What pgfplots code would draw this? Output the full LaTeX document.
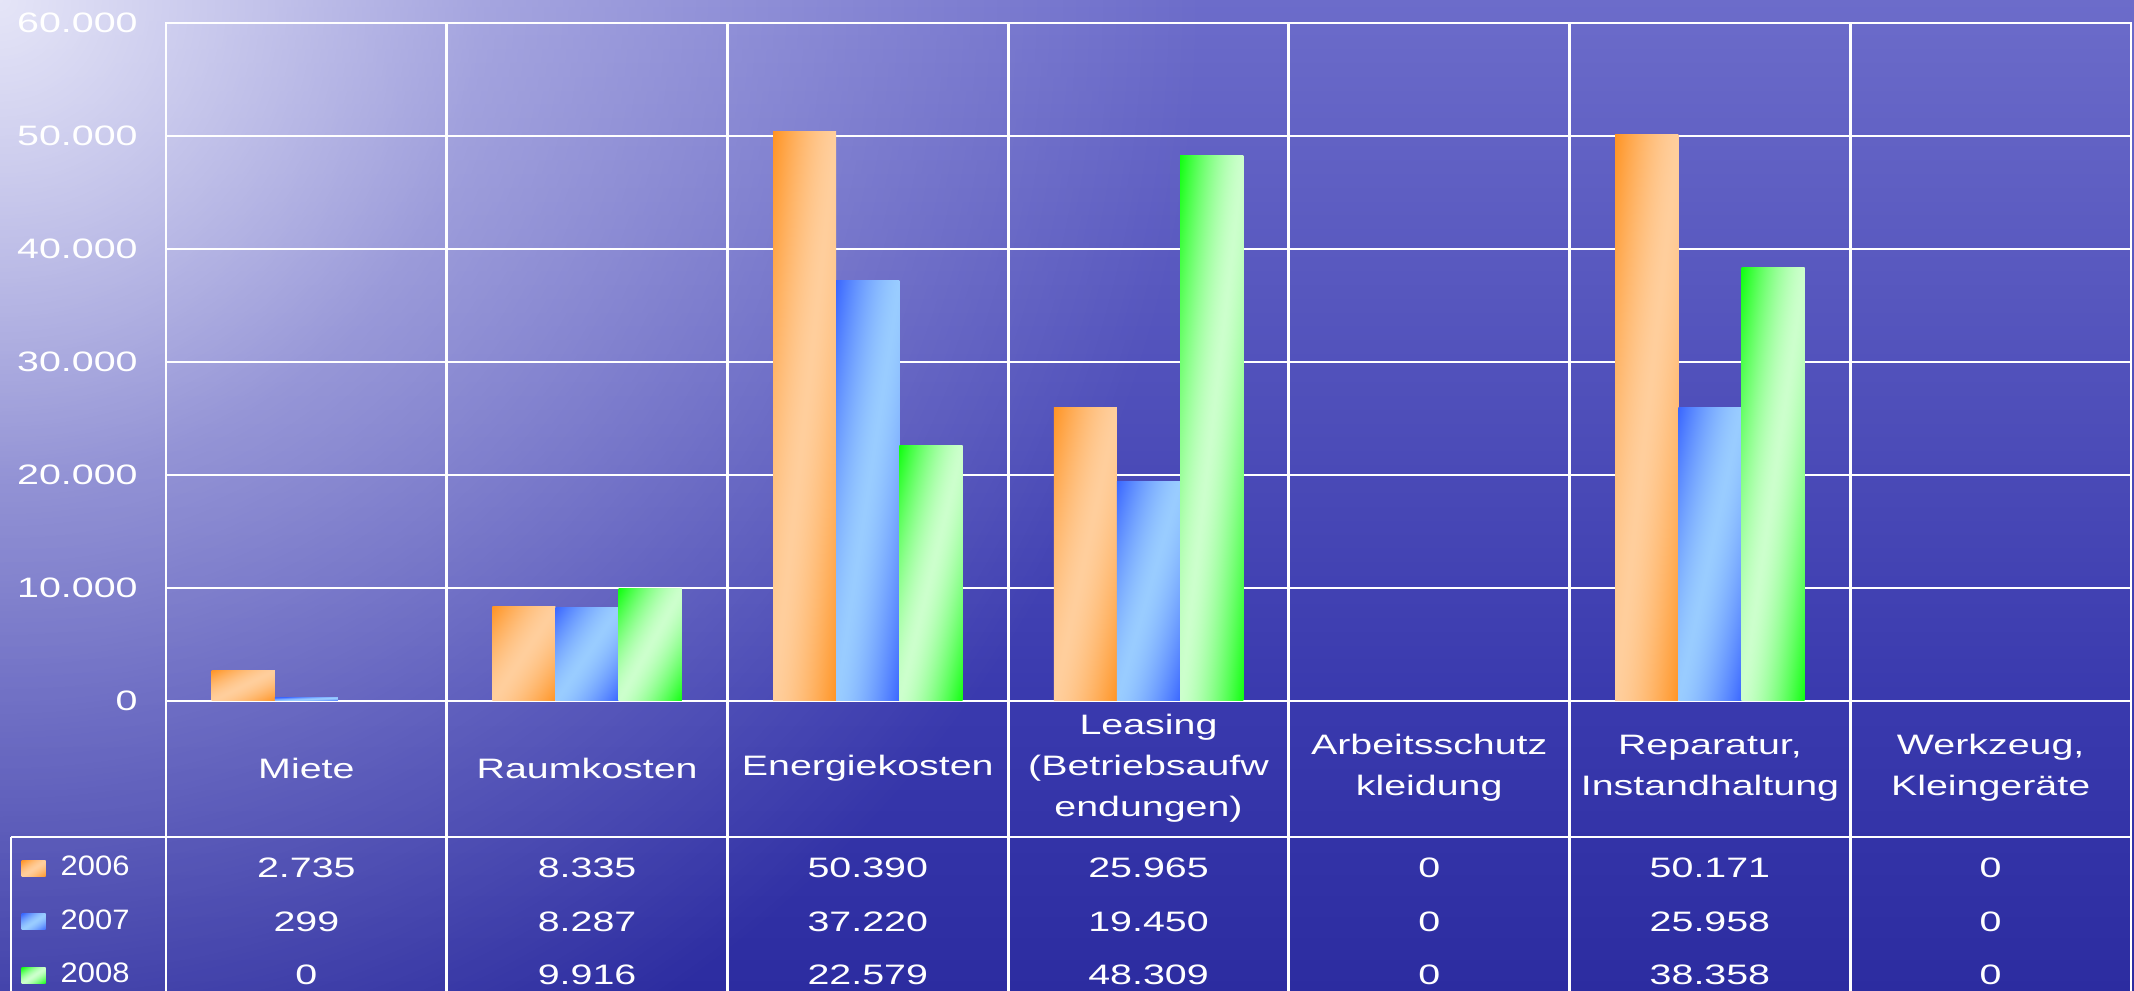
\documentclass[border=0pt]{standalone}
\usepackage{fontspec}
\setmainfont{Liberation Sans}[FakeStretch=1.4]
\newfontfamily\legendfamily{Liberation Sans}[FakeStretch=1.1]
\usepackage{pgfplots}
\pgfplotsset{compat=1.18}
\usepackage{pgfplotstable}
\usetikzlibrary{fadings}

\pgfkeys{/pgf/number format/.cd, fixed, precision=0, 1000 sep={.}, assume math mode=true}
\newcommand\chartfont{\fontsize{8}{11.7}\selectfont}

% background colours
\definecolor{bgTop}{RGB}{108,108,202}
\definecolor{bgMid}{RGB}{58,58,174}
\definecolor{bgBot}{RGB}{44,44,160}
\definecolor{glowc}{RGB}{236,236,250}

% bar gradients: light along the bar's rising diagonal, dark in the two other corners
% u = (|x-y|/50)^1.5 ; colour = light + u*(dark-light)
\pgfdeclarefunctionalshading{orbar}{\pgfpointorigin}{\pgfpoint{100bp}{100bp}}{}{
  sub abs 50 div dup 1 gt {pop 1} if dup sqrt mul
  dup dup
  -0.471 mul 0.612 add
  3 1 roll
  -0.228 mul 0.808 add
  3 1 roll
  0 mul 1 add
  3 1 roll
}
\pgfdeclarefunctionalshading{blbar}{\pgfpointorigin}{\pgfpoint{100bp}{100bp}}{}{
  sub abs 50 div dup 1 gt {pop 1} if dup sqrt mul
  dup dup
  0 mul 1 add
  3 1 roll
  -0.4 mul 0.8 add
  3 1 roll
  -0.373 mul 0.6 add
  3 1 roll
}
\pgfdeclarefunctionalshading{grbar}{\pgfpointorigin}{\pgfpoint{100bp}{100bp}}{}{
  sub abs 50 div dup 1 gt {pop 1} if dup sqrt mul
  dup dup
  -0.737 mul 0.8 add
  3 1 roll
  0 mul 1 add
  3 1 roll
  -0.737 mul 0.8 add
  3 1 roll
}
\pgfdeclareverticalshading{bgv}{100bp}{color(0bp)=(bgBot); color(25bp)=(bgBot); color(40bp)=(bgMid); color(75bp)=(bgTop); color(100bp)=(bgTop)}
\pgfdeclareradialshading{glowshade}{\pgfpointorigin}{color(0bp)=(pgftransparent!5); color(4bp)=(pgftransparent!25); color(10bp)=(pgftransparent!55); color(18bp)=(pgftransparent!80); color(25bp)=(pgftransparent!100); color(50bp)=(pgftransparent!100)}
\pgfdeclarefading{glow}{\pgfuseshading{glowshade}}

\tikzset{
  s2006/.style={shade, shading=orbar, draw=none},
  s2007/.style={shade, shading=blbar, draw=none},
  s2008/.style={shade, shading=grbar, draw=none},
}

\pgfplotstableread{
idx y2006 y2007 y2008
0 2735 299 0
1 8335 8287 9916
2 50390 37220 22579
3 25965 19450 48309
4 0 0 0
5 50171 25958 38358
6 0 0 0
}\costdata

\begin{document}
\begin{tikzpicture}
\useasboundingbox (0,0) rectangle (21.34,9.91);
\begin{scope}
  \clip (0,0) rectangle (21.34,9.91);
  \shade[shading=bgv] (0,0) rectangle (21.34,9.91);
  \fill[glowc, path fading=glow] (0,9.91) circle (12cm);
\end{scope}
\begin{axis}[
  at={(1.66cm,2.90cm)}, anchor=south west,
  scale only axis, width=19.65cm, height=6.78cm,
  xmin=-0.5, xmax=6.5, ymin=0, ymax=60000,
  xtick={0,...,6},
  xticklabels={Miete, Raumkosten, Energiekosten, {Leasing\\(Betriebsaufw\\endungen)}, {Arbeitsschutz\\kleidung}, {Reparatur,\\Instandhaltung}, {Werkzeug,\\Kleingeräte}},
  minor xtick={-0.5,0.5,...,6.5},
  xminorgrids, minor x grid style={white, line width=0.8pt},
  ytick={0,10000,...,60000},
  ymajorgrids, y grid style={white, line width=0.8pt},
  axis line style={white, line width=0.8pt},
  major tick length=0pt, minor tick length=0pt,
  scaled y ticks=false,
  tick label style={white, font=\chartfont},
  yticklabel style={xshift=-1.6mm},
  xticklabel style={anchor=center, yshift=-6.7mm, align=center},
  clip=false,
  legend style={at={(-0.0738,-0.2065)}, anchor=north west, draw=none, fill=none,
    inner sep=0pt, row sep=0pt, column sep=1.5mm, text=white, font=\legendfamily\chartfont,
    nodes={inner sep=0pt, minimum height=5.35mm}},
  legend cell align=left,
]
% bars: one plot per bar, so that each bar gets its own gradient
\pgfplotsinvokeforeach{0,...,6}{
  \addplot[forget plot, ybar, bar width=0.225, bar shift=-0.225, s2006,
    x filter/.expression={x==#1 ? x : nan}, y filter/.expression={y==0 ? nan : y}]
    table[x=idx, y=y2006] {\costdata};
  \addplot[forget plot, ybar, bar width=0.225, bar shift=0, s2007,
    x filter/.expression={x==#1 ? x : nan}, y filter/.expression={y==0 ? nan : y}]
    table[x=idx, y=y2007] {\costdata};
  \addplot[forget plot, ybar, bar width=0.225, bar shift=0.225, s2008,
    x filter/.expression={x==#1 ? x : nan}, y filter/.expression={y==0 ? nan : y}]
    table[x=idx, y=y2008] {\costdata};
}
\addlegendimage{legend image code/.code={\shade[s2006] (0mm,-0.8mm) rectangle (2.4mm,0.8mm);}}
\addlegendentry{2006}
\addlegendimage{legend image code/.code={\shade[s2007] (0mm,-0.8mm) rectangle (2.4mm,0.8mm);}}
\addlegendentry{2007}
\addlegendimage{legend image code/.code={\shade[s2008] (0mm,-0.8mm) rectangle (2.4mm,0.8mm);}}
\addlegendentry{2008}

% data table below the categories
\addplot[forget plot, draw=none, mark=none, nodes near coords, point meta=explicit,
  every node near coord/.append style={white, anchor=center, font=\chartfont}]
  table[x=idx, y expr=-14780, meta=y2006] {\costdata};
\addplot[forget plot, draw=none, mark=none, nodes near coords, point meta=explicit,
  every node near coord/.append style={white, anchor=center, font=\chartfont}]
  table[x=idx, y expr=-19560, meta=y2007] {\costdata};
\addplot[forget plot, draw=none, mark=none, nodes near coords, point meta=explicit,
  every node near coord/.append style={white, anchor=center, font=\chartfont}]
  table[x=idx, y expr=-24250, meta=y2008] {\costdata};

% table rules
\pgfplotsinvokeforeach{-0.5,0.5,1.5,2.5,3.5,4.5,5.5,6.5}{
  \draw[white, line width=0.8pt] (axis cs:#1,0) -- (axis cs:#1,-27000);
}
\draw[white, line width=0.8pt] (axis cs:-1.052,-12040) -- (axis cs:6.5,-12040);
\draw[white, line width=0.8pt] (axis cs:-1.052,-12040) -- (axis cs:-1.052,-27000);
\end{axis}
\end{tikzpicture}
\end{document}
